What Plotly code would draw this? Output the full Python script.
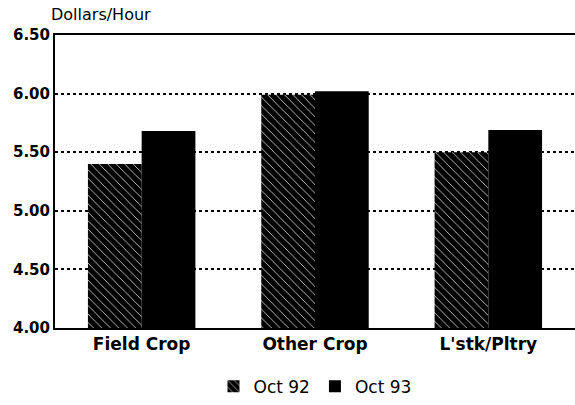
import plotly.graph_objects as go

categories = ["Field Crop", "Other Crop", "L'stk/Pltry"]
oct92 = [5.40, 5.99, 5.50]
oct93 = [5.68, 6.02, 5.69]
tick_vals = [4.0, 4.5, 5.0, 5.5, 6.0, 6.5]
tick_text = ["4.00", "4.50", "5.00", "5.50", "6.00", "6.50"]

FONT = "DejaVu Sans, Liberation Sans, Arial, sans-serif"

fig = go.Figure()
fig.add_trace(go.Bar(
    name="Oct 92", x=categories, y=oct92,
    marker=dict(color="black", line=dict(width=0),
                pattern=dict(shape="\\", fgcolor="white", bgcolor="black",
                             size=6, solidity=0.12, fillmode="replace")),
))
fig.add_trace(go.Bar(
    name="Oct 93", x=categories, y=oct93,
    marker=dict(color="black", line=dict(width=0)),
))

fig.update_layout(
    width=575, height=405,
    margin=dict(l=55, r=0, t=35, b=77, autoexpand=False),
    paper_bgcolor="white", plot_bgcolor="white",
    barmode="group", bargap=0.38, bargroupgap=0,
    font=dict(family=FONT, color="black"),
    showlegend=True,
    legend=dict(orientation="h", x=0.5, xanchor="center",
                yref="container", y=0.045, yanchor="middle",
                font=dict(size=17), itemwidth=30, traceorder="normal"),
    annotations=[dict(text="Dollars/Hour", xref="paper", yref="paper",
                      x=-0.012, y=1.03, xanchor="left", yanchor="bottom",
                      showarrow=False, font=dict(size=16))],
)
fig.update_xaxes(
    showline=True, linecolor="black", linewidth=2, mirror=True,
    showgrid=False, ticks="", automargin=False,
    tickfont=dict(size=17, weight="bold"),
)
fig.update_yaxes(
    range=[4.0, 6.5], tickvals=tick_vals, ticktext=tick_text,
    showline=True, linecolor="black", linewidth=2,
    showgrid=True, gridcolor="black", griddash="dot", gridwidth=1.5,
    zeroline=False, ticks="", automargin=False,
    tickfont=dict(size=15, weight="bold"),
)
fig.write_html("out.html", config={"displayModeBar": False},
               post_script="document.body.style.margin='0';")
